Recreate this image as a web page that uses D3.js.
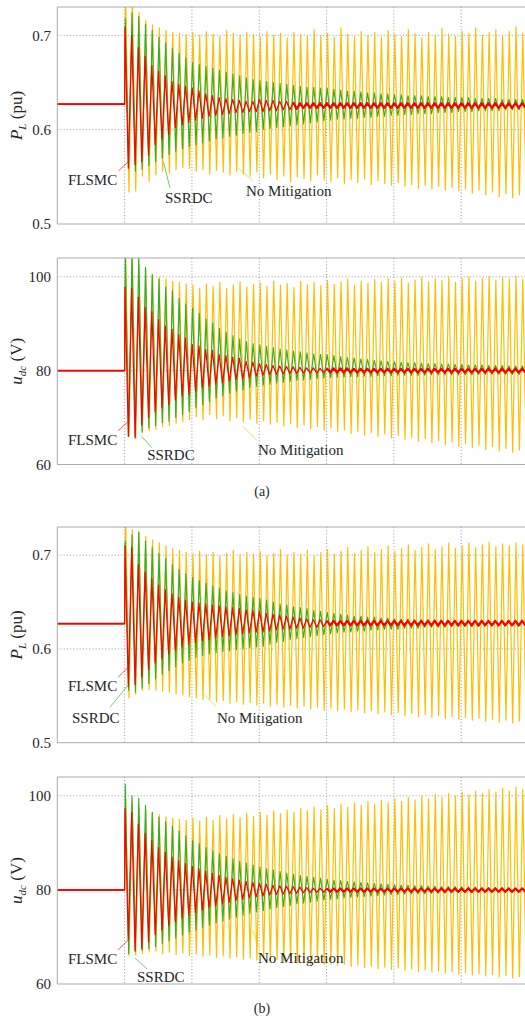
<!DOCTYPE html>
<html>
<head>
<meta charset="utf-8">
<script src="https://cdn.jsdelivr.net/npm/d3@7"></script>
<style>
body { margin: 0; background: #fff; }
svg { display: block; }
svg text { font-family: "Liberation Serif", Tinos, "Times New Roman", Times, "DejaVu Serif", "Noto Serif", serif; fill: #262626; }
</style>
</head>
<body>
<svg id="chart" width="525" height="1022"></svg>
<script>
// sampling of the oscillation: one peak and one trough per cycle after the step
var PERIOD = 0.01, STEP_T = 0.1;
var xDomain = [0, 0.7];
var xGrid = [0.1, 0.2, 0.3, 0.4, 0.5, 0.6];
var plTicks = [0.5, 0.6, 0.7];
var udTicks = [60, 80, 100];
var plDomain = [0.5, 0.73];
var udDomain = [60, 104];
var plPre = 0.627, udPre = 80;

// ---- (a) P_L ----
var plA_noMitPk = [0.745,0.740,0.724,0.716,0.711,0.708,0.705,0.703,0.702,0.701,
	0.703,0.700,0.704,0.701,0.699,0.705,0.702,0.700,0.703,0.701,
	0.698,0.704,0.700,0.702,0.697,0.703,0.701,0.699,0.706,0.700,
	0.702,0.698,0.708,0.701,0.699,0.704,0.700,0.703,0.698,0.705,
	0.701,0.699,0.706,0.702,0.697,0.703,0.700,0.707,0.701,0.699,
	0.704,0.702,0.708,0.700,0.703,0.706,0.699,0.704,0.709,0.702];
var plA_noMitTr = [0.534,0.535,0.551,0.545,0.552,0.556,0.554,0.558,0.560,0.559,
	0.556,0.558,0.553,0.557,0.555,0.552,0.556,0.553,0.551,0.555,
	0.549,0.553,0.547,0.551,0.545,0.550,0.548,0.546,0.552,0.547,
	0.545,0.549,0.543,0.547,0.544,0.548,0.542,0.546,0.543,0.541,
	0.544,0.540,0.542,0.538,0.541,0.537,0.540,0.536,0.539,0.535,
	0.537,0.533,0.536,0.531,0.534,0.529,0.532,0.528,0.531,0.527];
var plA_ssrdcPk = [0.718,0.724,0.720,0.712,0.705,0.698,0.692,0.686,0.681,0.676,
	0.671,0.669,0.667,0.665,0.663,0.661,0.659,0.657,0.655,0.653,
	0.652,0.651,0.650,0.649,0.648,0.647,0.646,0.645,0.645,0.644,
	0.644,0.643,0.642,0.641,0.641,0.640,0.639,0.639,0.638,0.638,
	0.637,0.637,0.636,0.636,0.636,0.635,0.635,0.635,0.634,0.634,
	0.634,0.634,0.633,0.633,0.633,0.633,0.632,0.632,0.632,0.632];
var plA_ssrdcTr = [0.560,0.556,0.558,0.562,0.566,0.570,0.574,0.577,0.580,0.582,
	0.584,0.586,0.588,0.590,0.591,0.593,0.594,0.596,0.597,0.598,
	0.600,0.601,0.602,0.603,0.604,0.605,0.606,0.607,0.608,0.609,
	0.610,0.611,0.611,0.612,0.612,0.613,0.613,0.614,0.614,0.615,
	0.615,0.616,0.616,0.617,0.617,0.617,0.618,0.618,0.618,0.619,
	0.619,0.619,0.620,0.620,0.620,0.620,0.621,0.621,0.621,0.621];
var plA_flsmcPk = [0.709,0.700,0.687,0.678,0.668,0.662,0.657,0.651,0.648,0.646,
	0.644,0.641,0.638,0.636,0.634,0.633,0.632,0.631,0.630,0.630,
	0.632,0.631,0.631,0.630,0.630,0.629,0.628,0.628,0.628,0.628,
	0.628,0.628,0.628,0.628,0.628,0.628,0.628,0.628,0.628,0.628,
	0.628,0.628,0.628,0.628,0.628,0.628,0.628,0.628,0.628,0.628,
	0.628,0.628,0.628,0.628,0.628,0.628,0.628,0.628,0.628,0.628];
var plA_flsmcTr = [0.559,0.563,0.566,0.573,0.584,0.590,0.595,0.602,0.605,0.608,
	0.610,0.612,0.614,0.615,0.616,0.617,0.618,0.618,0.619,0.619,
	0.619,0.620,0.620,0.621,0.621,0.622,0.623,0.623,0.623,0.623,
	0.623,0.623,0.623,0.623,0.623,0.623,0.623,0.623,0.623,0.623,
	0.623,0.623,0.623,0.623,0.623,0.623,0.623,0.623,0.623,0.623,
	0.623,0.623,0.623,0.623,0.623,0.623,0.623,0.623,0.623,0.623];

// ---- (a) u_dc ----
var udA_noMitPk = [106,105,102.5,101.5,100.5,100,99.5,99,98.8,98.5,
	98.2,97.6,98.5,97.9,98.8,97.5,98.3,98.9,97.8,98.4,
	98.7,97.9,99.1,98.2,98.6,97.7,99.0,98.3,98.8,98.1,
	99.2,98.4,98.9,99.5,98.2,99.1,98.6,99.4,98.8,99.6,
	99.0,99.7,98.6,99.3,99.9,98.9,99.5,99.2,100.0,98.8,
	99.6,99.9,99.1,99.7,100.1,99.3,99.8,99.5,100.2,99.4];
var udA_noMitTr = [66.0,65.5,66.8,67.2,67.5,68.0,68.3,68.8,69.2,69.6,
	70.2,69.5,70.6,69.8,70.4,69.3,70.0,69.1,69.7,68.8,
	69.3,68.6,69.0,68.2,68.7,67.9,68.4,67.6,68.1,67.3,
	67.8,67.0,67.4,66.6,67.1,66.3,66.8,66.0,66.5,65.7,
	66.2,65.4,65.8,65.0,65.5,64.6,65.1,64.3,64.8,63.9,
	64.4,63.6,64.1,63.2,63.8,62.9,63.4,62.6,63.1,62.3];
var udA_ssrdcPk = [105,105,104.5,102,100.5,99.5,97.8,97.0,95.4,94.2,
	93.3,92.2,91.0,90.2,89.0,88.2,87.5,86.8,86.2,85.7,
	85.5,85.2,84.9,84.6,84.4,84.2,84.0,83.8,83.6,83.5,
	83.4,83.2,83.0,82.8,82.7,82.5,82.4,82.2,82.1,82.0,
	81.9,81.8,81.7,81.7,81.6,81.5,81.5,81.4,81.4,81.3,
	81.3,81.2,81.2,81.2,81.1,81.1,81.1,81.0,81.0,81.0];
var udA_ssrdcTr = [66.0,66.0,67.0,67.8,68.3,68.9,69.2,70.0,70.6,71.3,
	72.1,72.8,73.4,74.2,74.6,75.2,75.6,75.9,76.4,76.7,
	76.9,77.1,77.3,77.5,77.7,77.9,78.0,78.2,78.3,78.4,
	78.5,78.6,78.6,78.7,78.7,78.8,78.8,78.9,78.9,78.9,
	79.0,79.0,79.0,79.0,79.0,79.1,79.1,79.1,79.1,79.1,
	79.1,79.1,79.2,79.2,79.2,79.2,79.2,79.2,79.2,79.2];
var udA_flsmcPk = [97.8,97.5,95.6,93.5,92.6,90.9,89.5,88.8,87.7,87.0,
	85.6,85.3,84.5,84.3,83.4,83.2,82.9,82.6,82.0,81.8,
	81.5,81.3,81.1,81.0,80.9,80.8,80.7,80.6,80.6,80.5,
	80.5,80.5,80.5,80.5,80.4,80.4,80.4,80.4,80.4,80.4,
	80.4,80.4,80.4,80.4,80.4,80.4,80.4,80.4,80.4,80.4,
	80.4,80.4,80.4,80.4,80.4,80.4,80.4,80.4,80.4,80.4];
var udA_flsmcTr = [66.0,65.7,68.4,70.0,71.2,72.1,72.8,73.8,74.6,75.0,
	75.6,76.4,76.7,77.1,77.4,77.8,78.1,78.2,78.5,78.8,
	79.0,79.1,79.2,79.3,79.4,79.4,79.5,79.5,79.5,79.6,
	79.6,79.6,79.6,79.6,79.6,79.6,79.6,79.6,79.6,79.6,
	79.6,79.6,79.6,79.6,79.6,79.6,79.6,79.6,79.6,79.6,
	79.6,79.6,79.6,79.6,79.6,79.6,79.6,79.6,79.6,79.6];

// ---- (b) P_L ----
var plB_noMitPk = [0.745,0.727,0.724,0.720,0.716,0.713,0.710,0.707,0.705,0.703,
	0.701,0.704,0.700,0.703,0.699,0.702,0.705,0.700,0.703,0.701,
	0.704,0.699,0.702,0.706,0.700,0.703,0.701,0.705,0.699,0.703,
	0.706,0.701,0.704,0.708,0.702,0.705,0.709,0.703,0.706,0.710,
	0.704,0.707,0.711,0.705,0.708,0.712,0.706,0.709,0.713,0.707,
	0.710,0.713,0.708,0.711,0.714,0.709,0.712,0.710,0.713,0.711];
var plB_noMitTr = [0.548,0.552,0.556,0.557,0.556,0.555,0.554,0.552,0.551,0.549,
	0.548,0.546,0.547,0.544,0.545,0.542,0.544,0.541,0.543,0.540,
	0.542,0.539,0.541,0.538,0.540,0.537,0.539,0.536,0.538,0.535,
	0.537,0.534,0.536,0.533,0.535,0.532,0.534,0.531,0.533,0.530,
	0.532,0.529,0.531,0.528,0.530,0.527,0.529,0.526,0.528,0.525,
	0.527,0.524,0.526,0.523,0.525,0.522,0.524,0.521,0.523,0.520];
var plB_ssrdcPk = [0.715,0.722,0.725,0.715,0.708,0.702,0.696,0.690,0.685,0.680,
	0.676,0.673,0.670,0.667,0.665,0.662,0.660,0.658,0.656,0.655,
	0.654,0.652,0.650,0.648,0.647,0.645,0.644,0.643,0.641,0.640,
	0.639,0.638,0.637,0.636,0.635,0.635,0.634,0.634,0.633,0.633,
	0.632,0.632,0.632,0.631,0.631,0.631,0.631,0.630,0.630,0.630,
	0.630,0.630,0.630,0.630,0.629,0.629,0.629,0.629,0.629,0.629];
var plB_ssrdcTr = [0.556,0.554,0.558,0.563,0.568,0.573,0.577,0.581,0.585,0.588,
	0.591,0.593,0.595,0.596,0.597,0.598,0.599,0.600,0.601,0.602,
	0.603,0.605,0.607,0.608,0.610,0.611,0.612,0.613,0.614,0.615,
	0.616,0.617,0.618,0.618,0.619,0.619,0.620,0.620,0.621,0.621,
	0.621,0.622,0.622,0.622,0.623,0.623,0.623,0.623,0.624,0.624,
	0.624,0.624,0.624,0.625,0.625,0.625,0.625,0.625,0.625,0.625];
var plB_flsmcPk = [0.710,0.708,0.690,0.682,0.675,0.668,0.663,0.659,0.655,0.652,
	0.650,0.649,0.648,0.647,0.646,0.645,0.644,0.643,0.642,0.641,
	0.640,0.638,0.637,0.636,0.635,0.634,0.633,0.632,0.631,0.631,
	0.630,0.630,0.630,0.630,0.630,0.630,0.630,0.630,0.630,0.630,
	0.630,0.630,0.630,0.630,0.630,0.630,0.630,0.630,0.630,0.630,
	0.630,0.630,0.630,0.630,0.630,0.630,0.630,0.630,0.630,0.630];
var plB_flsmcTr = [0.560,0.562,0.570,0.578,0.585,0.590,0.595,0.599,0.602,0.605,
	0.607,0.609,0.610,0.612,0.613,0.614,0.615,0.616,0.617,0.618,
	0.618,0.619,0.620,0.621,0.621,0.622,0.622,0.623,0.623,0.624,
	0.625,0.625,0.625,0.625,0.625,0.625,0.625,0.625,0.625,0.625,
	0.625,0.625,0.625,0.625,0.625,0.625,0.625,0.625,0.625,0.625,
	0.625,0.625,0.625,0.625,0.625,0.625,0.625,0.625,0.625,0.625];

// ---- (b) u_dc ----
var udB_noMitPk = [99.8,98.5,97.5,97.0,96.5,96.0,95.5,95.2,95.0,94.8,
	95.3,94.6,95.5,94.8,95.8,95.1,96.0,95.4,96.3,95.6,
	96.5,95.9,96.8,96.2,97.0,96.5,97.3,96.8,97.6,97.0,
	97.9,97.3,98.2,97.6,98.5,97.9,98.8,98.2,99.1,98.5,
	99.4,98.8,99.7,99.1,100.0,99.4,100.3,99.7,100.5,100.0,
	100.8,100.2,101.0,100.5,101.3,100.8,101.6,101.0,101.8,101.3];
var udB_noMitTr = [66.0,66.2,66.5,66.8,67.0,66.5,66.8,66.3,66.6,66.1,
	66.4,65.9,66.2,65.7,66.0,65.5,65.8,65.3,65.6,65.1,
	65.4,64.9,65.2,64.7,65.0,64.5,64.8,64.3,64.6,64.1,
	64.4,63.9,64.2,63.7,64.0,63.5,63.8,63.3,63.6,63.1,
	63.4,62.9,63.2,62.7,63.0,62.5,62.8,62.3,62.6,62.1,
	62.4,61.9,62.2,61.7,62.0,61.5,61.8,61.3,61.6,61.1];
var udB_ssrdcPk = [102.5,100.0,99.5,98.0,96.5,95.5,94.5,93.5,92.5,91.5,
	90.5,89.8,89.0,88.3,87.7,87.1,86.6,86.1,85.7,85.3,
	84.9,84.5,84.2,83.9,83.6,83.3,83.1,82.9,82.7,82.5,
	82.3,82.1,82.0,81.8,81.7,81.6,81.5,81.4,81.3,81.2,
	81.1,81.0,81.0,80.9,80.9,80.8,80.8,80.7,80.7,80.7,
	80.6,80.6,80.6,80.5,80.5,80.5,80.5,80.4,80.4,80.4];
var udB_ssrdcTr = [66.5,67.0,67.2,67.5,68.0,68.6,69.2,69.8,70.4,71.0,
	71.5,72.0,72.5,73.0,73.4,73.8,74.2,74.6,75.0,75.3,
	75.6,75.9,76.2,76.5,76.7,77.0,77.2,77.4,77.6,77.8,
	78.0,78.1,78.3,78.4,78.5,78.6,78.7,78.8,78.9,79.0,
	79.0,79.1,79.1,79.2,79.2,79.3,79.3,79.3,79.4,79.4,
	79.4,79.4,79.5,79.5,79.5,79.5,79.5,79.5,79.6,79.6];
var udB_flsmcPk = [97.3,96.5,94.0,92.0,90.5,89.0,88.0,87.0,86.2,85.6,
	85.0,84.5,84.0,83.5,83.1,82.7,82.4,82.1,81.8,81.6,
	81.4,81.2,81.0,80.9,80.8,80.7,80.6,80.5,80.4,80.4,
	80.3,80.3,80.3,80.3,80.3,80.3,80.3,80.3,80.3,80.3,
	80.3,80.3,80.3,80.3,80.3,80.3,80.3,80.3,80.3,80.3,
	80.3,80.3,80.3,80.3,80.3,80.3,80.3,80.3,80.3,80.3];
var udB_flsmcTr = [69.4,67.0,67.5,69.0,70.5,71.5,72.5,73.3,74.0,74.6,
	75.2,75.7,76.2,76.6,77.0,77.4,77.7,78.0,78.3,78.5,
	78.7,78.9,79.0,79.1,79.2,79.3,79.4,79.4,79.5,79.5,
	79.6,79.6,79.6,79.6,79.6,79.6,79.6,79.6,79.6,79.6,
	79.6,79.6,79.6,79.6,79.6,79.6,79.6,79.6,79.6,79.6,
	79.6,79.6,79.6,79.6,79.6,79.6,79.6,79.6,79.6,79.6];

var COLORS = { noMit: "#FFBF00", ssrdc: "#2EAD2E", flsmc: "#FF0000" };
var FONT = "'Liberation Serif', Tinos, 'Times New Roman', Times, 'DejaVu Serif', 'Noto Serif', serif";

function makeSeries(pk, tr, pre, phase) {
	var pts = [{ t: xDomain[0], v: pre }, { t: STEP_T, v: pre }];
	for (var k = 0; k < pk.length; k++) {
		var t = STEP_T + phase + k * PERIOD;
		pts.push({ t: t, v: pk[k] });
		pts.push({ t: t + PERIOD / 2, v: tr[k] });
	}
	return pts;
}

var panels = [
	{ top: 7, bottom: 224, domain: plDomain, ticks: plTicks, fmt: d3.format(".1f"),
		sym: "P", sub: "L", unit: " (pu)", pre: plPre, tail: 0.35,
		data: [plA_noMitPk, plA_noMitTr, plA_ssrdcPk, plA_ssrdcTr, plA_flsmcPk, plA_flsmcTr],
		notes: [
			{ text: "FLSMC", c: "flsmc", at: [0.0159, 0.5414], line: [[0.0909, 0.5562], [0.1065, 0.5668]] },
			{ text: "SSRDC", c: "ssrdc", at: [0.160, 0.5223], line: [[0.1578, 0.5657], [0.1674, 0.5382]] },
			{ text: "No Mitigation", c: "noMit", at: [0.2803, 0.5297], line: [[0.2685, 0.5594], [0.2900, 0.5460]] }
		] },
	{ top: 258, bottom: 464.5, domain: udDomain, ticks: udTicks, fmt: d3.format("d"),
		sym: "u", sub: "dc", unit: " (V)", pre: udPre, tail: 0.4,
		data: [udA_noMitPk, udA_noMitTr, udA_ssrdcPk, udA_ssrdcTr, udA_flsmcPk, udA_flsmcTr],
		notes: [
			{ text: "FLSMC", c: "flsmc", at: [0.0159, 64.2], line: [[0.0902, 67.2], [0.1065, 69.3]] },
			{ text: "SSRDC", c: "ssrdc", at: [0.1335, 61.0], line: [[0.1254, 66.0], [0.1402, 63.6]] },
			{ text: "No Mitigation", c: "noMit", at: [0.2982, 62.1], line: [[0.2759, 68.1], [0.2967, 65.1]] }
		] },
	{ top: 527, bottom: 742.7, domain: plDomain, ticks: plTicks, fmt: d3.format(".1f"),
		sym: "P", sub: "L", unit: " (pu)", pre: plPre, tail: 0.4,
		data: [plB_noMitPk, plB_noMitTr, plB_ssrdcPk, plB_ssrdcTr, plB_flsmcPk, plB_flsmcTr],
		notes: [
			{ text: "FLSMC", c: "flsmc", at: [0.0159, 0.5548], line: [[0.0902, 0.5697], [0.1050, 0.5803]] },
			{ text: "SSRDC", c: "ssrdc", at: [0.0218, 0.5209], line: [[0.0783, 0.5379], [0.1050, 0.5612]] },
			{ text: "No Mitigation", c: "noMit", at: [0.2373, 0.5209], line: [[0.2194, 0.5506], [0.2365, 0.5379]] }
		] },
	{ top: 777, bottom: 984, domain: udDomain, ticks: udTicks, fmt: d3.format("d"),
		sym: "u", sub: "dc", unit: " (V)", pre: udPre, tail: 0.4,
		data: [udB_noMitPk, udB_noMitTr, udB_ssrdcPk, udB_ssrdcTr, udB_flsmcPk, udB_flsmcTr],
		notes: [
			{ text: "FLSMC", c: "flsmc", at: [0.0159, 64.2], line: [[0.0902, 67.2], [0.1050, 69.3]] },
			{ text: "SSRDC", c: "ssrdc", at: [0.1184, 60.4], line: [[0.1154, 65.5], [0.1333, 63.2]] },
			{ text: "No Mitigation", c: "noMit", at: [0.2982, 64.4], line: [[0.2900, 71.5], [0.2990, 68.0]] }
		] }
];

var svg = d3.select("#chart").attr("font-family", FONT);
var x = d3.scaleLinear().domain(xDomain).range([57.3, 528.5]);

panels.forEach(function(p, i) {
	var y = d3.scaleLinear().domain(p.domain).range([p.bottom, p.top]);
	var g = svg.append("g").attr("class", "panel");

	g.append("clipPath").attr("id", "clip" + i)
		.append("rect")
		.attr("x", x(xDomain[0])).attr("y", p.top)
		.attr("width", x(xDomain[1]) - x(xDomain[0])).attr("height", p.bottom - p.top);

	// grid
	g.selectAll(".vgrid").data(xGrid).enter().append("line")
		.attr("x1", function(d) { return x(d); }).attr("x2", function(d) { return x(d); })
		.attr("y1", p.top).attr("y2", p.bottom)
		.attr("stroke", "#8c8c8c").attr("stroke-width", 0.9).attr("stroke-dasharray", "1,2.2");
	g.selectAll(".hgrid").data(p.ticks.slice(1)).enter().append("line")
		.attr("x1", x(xDomain[0])).attr("x2", x(xDomain[1]))
		.attr("y1", function(d) { return y(d); }).attr("y2", function(d) { return y(d); })
		.attr("stroke", "#8c8c8c").attr("stroke-width", 0.9).attr("stroke-dasharray", "1,2.2");

	// traces
	var line = d3.line().x(function(d) { return x(d.t); }).y(function(d) { return y(d.v); });
	var red = makeSeries(p.data[4], p.data[5], p.pre, 0.0005);
	var traces = [
		{ key: "noMit", pts: makeSeries(p.data[0], p.data[1], p.pre, 0.0015), w: 1.2 },
		{ key: "ssrdc", pts: makeSeries(p.data[2], p.data[3], p.pre, 0.0010), w: 1.1 },
		{ key: "flsmc", pts: red, w: 1.2 },
		// settled part of FLSMC drawn heavier, as in the figure
		{ key: "flsmc", pts: red.filter(function(d) { return d.t >= p.tail; }), w: 2.2 },
		{ key: "flsmc", pts: red.filter(function(d) { return d.t <= STEP_T; }), w: 1.8 }
	];
	g.append("g").attr("clip-path", "url(#clip" + i + ")")
		.selectAll("path").data(traces).enter().append("path")
		.attr("d", function(d) { return line(d.pts); })
		.attr("fill", "none")
		.attr("stroke", function(d) { return COLORS[d.key]; })
		.attr("stroke-width", function(d) { return d.w; })
		.attr("stroke-linejoin", "round");

	// frame (right side falls outside the page)
	g.append("path")
		.attr("d", "M" + x(xDomain[1]) + "," + p.top + "H" + x(xDomain[0]) + "V" + p.bottom + "H" + x(xDomain[1]))
		.attr("fill", "none").attr("stroke", "#ababab").attr("stroke-width", 1);

	// y ticks
	g.selectAll(".ytick").data(p.ticks).enter().append("text")
		.attr("x", 51).attr("y", function(d) { return y(d); })
		.attr("dy", "0.35em").attr("text-anchor", "end")
		.attr("font-family", FONT).attr("font-size", 15)
		.text(p.fmt);

	// y label
	var lab = g.append("text")
		.attr("transform", "translate(22," + ((p.top + p.bottom) / 2) + ") rotate(-90)")
		.attr("text-anchor", "middle").attr("font-family", FONT).attr("font-size", 17);
	lab.append("tspan").attr("font-style", "italic").text(p.sym);
	lab.append("tspan").attr("font-style", "italic").attr("font-size", 11).attr("dy", 4).text(p.sub);
	lab.append("tspan").attr("dy", -4).text(p.unit);

	// annotations
	p.notes.forEach(function(n) {
		g.append("line")
			.attr("x1", x(n.line[0][0])).attr("y1", y(n.line[0][1]))
			.attr("x2", x(n.line[1][0])).attr("y2", y(n.line[1][1]))
			.attr("stroke", COLORS[n.c]).attr("stroke-width", 0.8).attr("opacity", 0.8);
		g.append("text")
			.attr("x", x(n.at[0])).attr("y", y(n.at[1]))
			.attr("font-family", FONT).attr("font-size", 15)
			.text(n.text);
	});
});

// captions
svg.append("text").attr("x", 262).attr("y", 496).attr("text-anchor", "middle")
	.attr("font-family", FONT).attr("font-size", 14).text("(a)");
svg.append("text").attr("x", 262).attr("y", 1013).attr("text-anchor", "middle")
	.attr("font-family", FONT).attr("font-size", 14).text("(b)");
</script>
</body>
</html>
